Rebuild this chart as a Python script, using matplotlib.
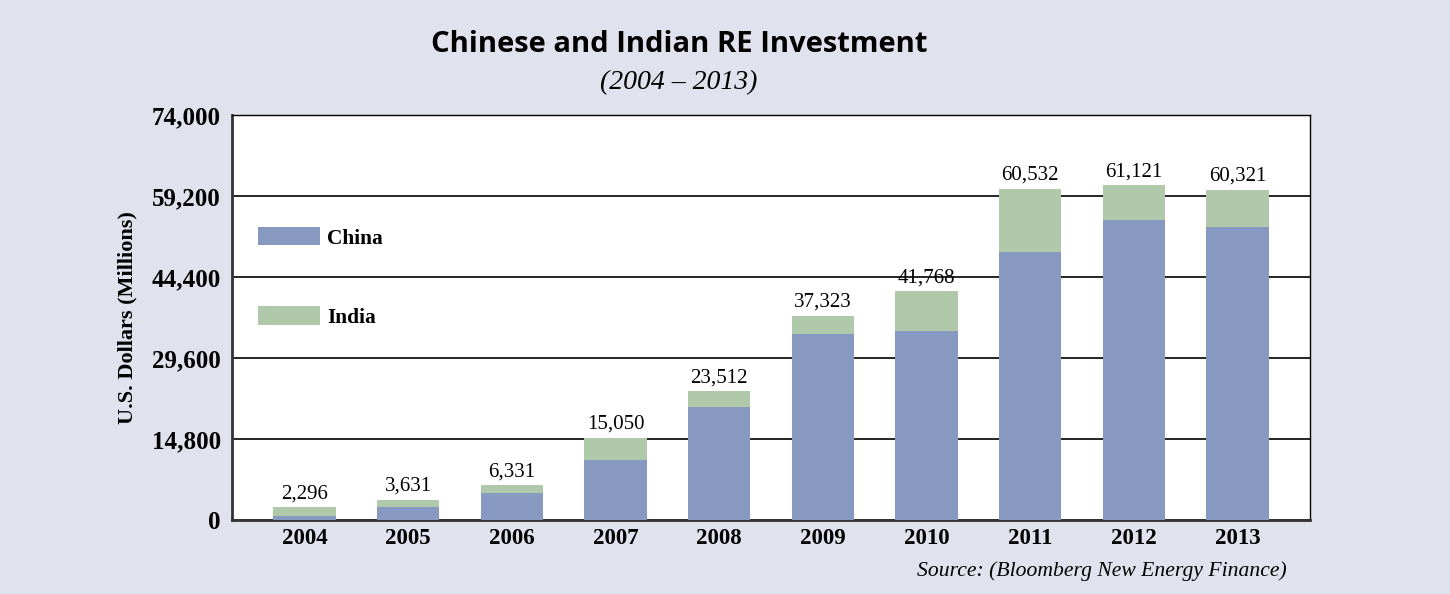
import matplotlib
matplotlib.use("Agg")
import matplotlib.pyplot as plt
import numpy as np

# Renewable energy investment, US$ millions
years = ["2004", "2005", "2006", "2007", "2008", "2009", "2010", "2011", "2012", "2013"]
totals = [2296, 3631, 6331, 15050, 23512, 37323, 41768, 60532, 61121, 60321]
china = [800, 2300, 5000, 10950, 20700, 34000, 34500, 49000, 54800, 53500]
india = [t - c for t, c in zip(totals, china)]
yticks = [0, 14800, 29600, 44400, 59200, 74000]

BG = "#e0e2ee"
CHINA_C = "#8798c1"
INDIA_C = "#b0c9aa"
SERIF = "Liberation Serif"

fig = plt.figure(figsize=(14.5, 5.94), dpi=100, facecolor=BG)
ax = fig.add_axes([232 / 1450, 74 / 594, 1078 / 1450, 405 / 594])
ax.set_facecolor("white")

x = np.arange(len(years))
ax.bar(x, china, width=0.6, color=CHINA_C, label="China", zorder=3)
ax.bar(x, india, width=0.6, bottom=china, color=INDIA_C, label="India", zorder=3)

for xi, t in zip(x, totals):
    ax.annotate(f"{t:,}", (xi, t), xytext=(0, 3), textcoords="offset points",
                ha="center", va="bottom", fontsize=15, family=SERIF)

ax.set_xlim(-0.7, len(years) - 0.3)
ax.set_ylim(0, 74000)
ax.set_yticks(yticks)
ax.set_yticklabels([f"{v:,}" for v in yticks])
ax.set_xticks(x)
ax.set_xticklabels(years)
ax.tick_params(axis="both", length=0)
ax.tick_params(axis="y", pad=8, labelsize=18)
ax.tick_params(axis="x", pad=6, labelsize=16.5)
for lab in ax.get_xticklabels() + ax.get_yticklabels():
    lab.set_family(SERIF)
    lab.set_fontweight("bold")

ax.yaxis.grid(True, color="black", linewidth=1.2, zorder=0)
ax.set_axisbelow(True)
for side in ["top", "right"]:
    ax.spines[side].set_linewidth(1.0)
    ax.spines[side].set_color("black")
for side in ["left", "bottom"]:
    ax.spines[side].set_linewidth(2.0)
    ax.spines[side].set_color("#333333")

ax.set_ylabel("U.S. Dollars (Millions)", family=SERIF, fontweight="bold",
              fontsize=16, labelpad=10)

leg = ax.legend(loc="upper left", bbox_to_anchor=(0.024, 0.7235), frameon=False,
                borderaxespad=0, borderpad=0, handlelength=2.9, handleheight=0.95,
                labelspacing=2.7, handletextpad=0.35,
                prop={"family": SERIF, "weight": "bold", "size": 15.4})

fig.text(679 / 1450, 1 - 45 / 594, "Chinese and Indian RE Investment", ha="center",
         va="center", fontsize=21, fontweight="bold", family="Open Sans")
fig.text(679 / 1450, 1 - 83 / 594, "(2004 \u2013 2013)", ha="center", va="center",
         fontsize=20, style="italic", family=SERIF)
fig.text(1287 / 1450, 1 - 571 / 594, "Source: (Bloomberg New Energy Finance)",
         ha="right", va="center", fontsize=15.6, style="italic", family=SERIF)

fig.savefig("out.png", dpi=100, facecolor=BG)
